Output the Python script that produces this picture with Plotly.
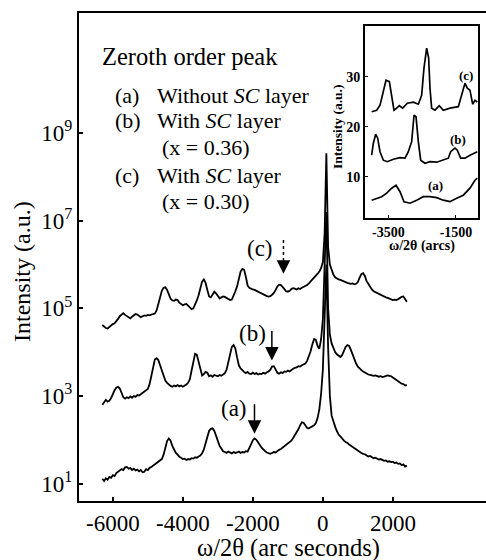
import plotly.graph_objects as go

# ---------------- data (main panel) ----------------
x_start = -6300   # first sample, arc seconds
x_step = 50       # sampling step, arc seconds

# log10(intensity), one value every 50 arcsec from -6300 to 2400
a_log = [1.11, 1.06, 1.12, 1.09, 1.15, 1.13, 1.19, 1.17, 1.24, 1.27,
         1.30, 1.33, 1.31, 1.37, 1.38, 1.34, 1.36, 1.31, 1.34, 1.30,
         1.32, 1.28, 1.31, 1.26, 1.27, 1.33, 1.31, 1.36, 1.38, 1.41,
         1.42, 1.46, 1.49, 1.52, 1.56, 1.66, 1.82, 1.97, 2.03, 1.98,
         1.86, 1.76, 1.70, 1.66, 1.61, 1.59, 1.56, 1.57, 1.54, 1.56,
         1.55, 1.58, 1.57, 1.60, 1.59, 1.62, 1.64, 1.69, 1.78, 1.92,
         2.08, 2.20, 2.25, 2.26, 2.20, 2.07, 1.95, 1.86, 1.80, 1.74,
         1.72, 1.70, 1.73, 1.71, 1.69, 1.72, 1.70, 1.71, 1.73, 1.70,
         1.72, 1.71, 1.74, 1.73, 1.80, 1.90, 1.99, 2.03, 2.00, 1.95,
         1.88, 1.82, 1.77, 1.74, 1.71, 1.70, 1.68, 1.70, 1.72, 1.71,
         1.75, 1.77, 1.79, 1.82, 1.84, 1.87, 1.90, 1.94, 1.98, 2.04,
         2.10, 2.17, 2.24, 2.33, 2.40, 2.39, 2.33, 2.27, 2.26, 2.28,
         2.31, 2.33, 2.38, 2.50, 2.70, 3.05, 3.60, 4.60, 6.00, 4.10,
         3.00, 2.55, 2.40, 2.30, 2.20, 2.12, 2.08, 2.02, 1.98, 1.95,
         1.93, 1.89, 1.86, 1.84, 1.81, 1.78, 1.75, 1.73, 1.70, 1.68,
         1.67, 1.64, 1.62, 1.63, 1.60, 1.58, 1.59, 1.57, 1.55, 1.56,
         1.53, 1.52, 1.53, 1.50, 1.51, 1.49, 1.50, 1.47, 1.48, 1.45,
         1.46, 1.42, 1.44, 1.39, 1.41]

b_log = [2.80, 2.86, 2.91, 2.87, 2.89, 2.95, 3.05, 3.13, 3.19, 3.21,
         3.17, 3.06, 2.97, 2.94, 2.97, 2.95, 2.99, 2.96, 3.00, 2.98,
         3.02, 3.01, 3.04, 3.07, 3.09, 3.12, 3.16, 3.27, 3.48, 3.70,
         3.83, 3.86, 3.82, 3.70, 3.57, 3.44, 3.35, 3.30, 3.26, 3.23,
         3.21, 3.24, 3.22, 3.25, 3.22, 3.24, 3.21, 3.23, 3.26, 3.30,
         3.38, 3.58, 3.82, 3.96, 3.94, 3.78, 3.56, 3.47, 3.50, 3.55,
         3.53, 3.45, 3.47, 3.44, 3.48, 3.46, 3.45, 3.48, 3.46, 3.49,
         3.52, 3.60, 3.78, 3.98, 4.12, 4.16, 4.08, 3.88, 3.70, 3.63,
         3.58, 3.55, 3.52, 3.55, 3.51, 3.50, 3.53, 3.50, 3.52, 3.49,
         3.51, 3.50, 3.53, 3.51, 3.54, 3.56, 3.60, 3.67, 3.68, 3.60,
         3.53, 3.51, 3.54, 3.52, 3.56, 3.55, 3.58, 3.56, 3.60, 3.62,
         3.64, 3.65, 3.68, 3.67, 3.70, 3.72, 3.74, 3.80, 3.90, 4.02,
         4.18, 4.30, 4.28, 4.14, 4.08, 4.30, 4.75, 5.80, 7.20, 5.00,
         4.40, 4.20, 4.08, 4.00, 3.95, 3.91, 3.89, 3.93, 4.02, 4.12,
         4.16, 4.14, 4.05, 3.93, 3.83, 3.74, 3.67, 3.62, 3.59, 3.56,
         3.53, 3.51, 3.49, 3.48, 3.47, 3.46, 3.47, 3.45, 3.44, 3.45,
         3.43, 3.44, 3.45, 3.47, 3.46, 3.45, 3.42, 3.39, 3.36, 3.33,
         3.30, 3.28, 3.27, 3.24, 3.25]

c_log = [4.62, 4.58, 4.55, 4.54, 4.58, 4.60, 4.64, 4.66, 4.70, 4.76,
         4.82, 4.86, 4.89, 4.85, 4.82, 4.78, 4.77, 4.81, 4.85, 4.87,
         4.86, 4.83, 4.80, 4.82, 4.84, 4.83, 4.85, 4.84, 4.86, 4.87,
         4.88, 4.95, 5.10, 5.27, 5.40, 5.47, 5.48, 5.42, 5.31, 5.22,
         5.18, 5.17, 5.20, 5.19, 5.13, 5.09, 5.07, 5.09, 5.10, 5.06,
         5.02, 4.98, 5.00, 5.08, 5.18, 5.30, 5.46, 5.61, 5.66, 5.58,
         5.42, 5.27, 5.25, 5.31, 5.38, 5.34, 5.27, 5.23, 5.25, 5.27,
         5.26, 5.24, 5.21, 5.19, 5.20, 5.28, 5.39, 5.50, 5.68, 5.84,
         5.90, 5.88, 5.72, 5.52, 5.47, 5.44, 5.43, 5.42, 5.40, 5.38,
         5.36, 5.34, 5.31, 5.29, 5.28, 5.27, 5.28, 5.31, 5.35, 5.42,
         5.50, 5.54, 5.53, 5.49, 5.43, 5.39, 5.38, 5.40, 5.44, 5.46,
         5.45, 5.43, 5.46, 5.44, 5.47, 5.49, 5.50, 5.53, 5.57, 5.61,
         5.65, 5.70, 5.74, 5.79, 5.84, 5.92, 6.05, 6.70, 8.54, 6.40,
         6.00, 5.88, 5.77, 5.71, 5.68, 5.66, 5.65, 5.63, 5.61, 5.60,
         5.58, 5.57, 5.56, 5.57, 5.55, 5.56, 5.60, 5.70, 5.78, 5.80,
         5.74, 5.62, 5.55, 5.48, 5.43, 5.39, 5.37, 5.34, 5.32, 5.30,
         5.28, 5.27, 5.25, 5.24, 5.22, 5.21, 5.19, 5.20, 5.19, 5.21,
         5.24, 5.26, 5.27, 5.22, 5.15]

x_ticks = [-6000, -4000, -2000, 0, 2000]
x_ticktext = ["-6000", "-4000", "-2000", "0", "2000"]
y_ticks = [1e1, 1e3, 1e5, 1e7, 1e9]
y_ticktext = ["10<sup>1</sup>", "10<sup>3</sup>", "10<sup>5</sup>", "10<sup>7</sup>", "10<sup>9</sup>"]

# arrows marking the weak satellite: x position and log10 of tip
arrow_labels = ["(a)", "(b)", "(c)"]
arrow_x = [-1953, -1457, -1126]
arrow_tip_log = [2.14, 3.81, 5.79]

# ---------------- data (inset) ----------------
ins_c_x = [-3993, -3845, -3746, -3648, -3569, -3470, -3401, -3333, -3254, -3175,
           -3076, -2938, -2761, -2613, -2515, -2446, -2367, -2308, -2268, -2219,
           -2121, -1993, -1874, -1678, -1431, -1332, -1234, -1165, -1086, -1007,
           -938, -869]
ins_c_y = [23.0, 23.3, 24.3, 27.3, 29.3, 29.0, 26.3, 23.3, 23.7, 24.2,
           23.7, 24.7, 24.9, 24.5, 26.3, 31.7, 35.7, 33.7, 27.7, 23.7,
           23.3, 24.2, 23.3, 23.7, 24.0, 26.3, 28.7, 27.7, 27.3, 24.5,
           25.3, 24.9]
ins_b_x = [-3993, -3943, -3874, -3815, -3746, -3648, -3530, -3352, -3155, -3007,
           -2909, -2810, -2741, -2682, -2613, -2544, -2416, -2268, -2071, -1874,
           -1727, -1658, -1530, -1461, -1362, -1234, -1086, -869]
ins_b_y = [14.3, 16.7, 18.5, 17.7, 15.0, 13.3, 13.0, 13.5, 13.8, 13.7,
           15.0, 17.0, 22.3, 22.0, 17.0, 13.3, 12.7, 13.0, 12.9, 13.3,
           13.7, 15.0, 15.7, 15.3, 13.7, 13.7, 14.3, 15.0]
ins_a_x = [-3993, -3845, -3697, -3549, -3401, -3273, -3155, -3037, -2859, -2662,
           -2465, -2268, -2071, -1874, -1678, -1481, -1284, -1086, -938, -869]
ins_a_y = [5.3, 5.7, 6.0, 6.7, 7.7, 8.3, 7.0, 5.0, 4.7, 5.3,
           6.0, 6.0, 5.8, 5.3, 5.0, 5.7, 6.3, 7.7, 9.3, 9.7]
ins_labels = ["(c)", "(b)", "(a)"]
ins_label_x = [-1214, -1431, -2091]
ins_label_y = [30.3, 17.5, 8.2]
ins_x_ticks = [-3500, -1500]
ins_y_ticks = [10, 20, 30]

# ---------------- figure ----------------
W, H = 486, 560
L, R, T, B = 79, 0, 13, 59
PW, PH = W - L - R, H - T - B
SERIF = "Liberation Serif, Times New Roman, serif"


def P(px, py):
    return (px - L) / PW, (H - B - py) / PH


def grid(n):
    return [x_start + x_step * i for i in range(n)]


fig = go.Figure()
for ylog in (a_log, b_log, c_log):
    fig.add_trace(go.Scatter(x=grid(len(ylog)), y=[10 ** v for v in ylog], mode="lines",
                             line=dict(color="black", width=1.8), showlegend=False,
                             xaxis="x", yaxis="y"))

for xs, ys in ((ins_c_x, ins_c_y), (ins_b_x, ins_b_y), (ins_a_x, ins_a_y)):
    fig.add_trace(go.Scatter(x=xs, y=ys, mode="lines",
                             line=dict(color="black", width=1.7), showlegend=False,
                             xaxis="x2", yaxis="y2"))

annotations = []
# arrows
for lab, ax_, tip in zip(arrow_labels, arrow_x, arrow_tip_log):
    dotted = (lab == "(c)")
    annotations.append(dict(x=ax_, y=tip, xref="x", yref="y", text="", showarrow=True,
                            arrowhead=2, arrowsize=1.8, arrowwidth=1.5, arrowcolor="black",
                            ax=0, ay=-11 if dotted else -31, standoff=0))

# dotted shaft of arrow (c): pixel rows 240..263
_, sy0 = P(0, 240)
_, sy1 = P(0, 263)
shapes = [dict(type="line", xref="x", yref="paper", x0=arrow_x[2], x1=arrow_x[2],
               y0=sy0, y1=sy1, line=dict(color="black", width=1.5, dash="dot"))]

label_px = {"(a)": (234, 408), "(b)": (252, 333), "(c)": (260, 248)}
for lab in arrow_labels:
    px, py = P(*label_px[lab])
    annotations.append(dict(x=px, y=py, xref="paper", yref="paper", text=lab, showarrow=False,
                            xanchor="center", yanchor="middle",
                            font=dict(family=SERIF, size=23, color="black")))

# legend-like text block
text_lines = [
    ("Zeroth order peak", 100, 57, 24.5),
    ("(a)", 113, 95, 22), ("Without <i>SC</i> layer", 155, 95, 22),
    ("(b)", 113, 120, 22), ("With <i>SC</i> layer", 155, 120, 22),
    ("(x = 0.36)", 160, 147, 22),
    ("(c)", 113, 175, 22), ("With <i>SC</i> layer", 155, 175, 22),
    ("(x = 0.30)", 160, 201, 22),
]
for txt, px, py, fs in text_lines:
    xp, yp = P(px, py)
    annotations.append(dict(x=xp, y=yp, xref="paper", yref="paper", text=txt, showarrow=False,
                            xanchor="left", yanchor="middle",
                            font=dict(family=SERIF, size=fs, color="black")))

# axis titles
xp, yp = P(22, 272)
annotations.append(dict(x=xp, y=yp, xref="paper", yref="paper", text="Intensity (a.u.)",
                        textangle=-90, showarrow=False, xanchor="center", yanchor="middle",
                        font=dict(family=SERIF, size=24, color="black")))
xp, yp = P(288, 548)
annotations.append(dict(x=xp, y=yp, xref="paper", yref="paper", text="ω/2θ (arc seconds)",
                        showarrow=False, xanchor="center", yanchor="middle",
                        font=dict(family=SERIF, size=24.5, color="black")))

# inset labels / titles
for lab, lx, ly in zip(ins_labels, ins_label_x, ins_label_y):
    annotations.append(dict(x=lx, y=ly, xref="x2", yref="y2", text="<b>" + lab + "</b>",
                            showarrow=False, font=dict(family=SERIF, size=13, color="black")))
xp, yp = P(338, 127)
annotations.append(dict(x=xp, y=yp, xref="paper", yref="paper", text="<b>Intensity (a.u.)</b>",
                        textangle=-90, showarrow=False, xanchor="center", yanchor="middle",
                        font=dict(family=SERIF, size=13.5, color="black")))
xp, yp = P(422, 246)
annotations.append(dict(x=xp, y=yp, xref="paper", yref="paper", text="<b>ω/2θ (arcs)</b>",
                        showarrow=False, xanchor="center", yanchor="middle",
                        font=dict(family=SERIF, size=14, color="black")))

ix0, iy_bot = P(365, 217.7)
ix1, iy_top = P(478.3, 25.7)

fig.update_layout(
    width=W, height=H,
    margin=dict(l=L, r=R, t=T, b=B, pad=0, autoexpand=False),
    paper_bgcolor="white", plot_bgcolor="white",
    showlegend=False,
    xaxis=dict(range=[-6966, 4660], domain=[0, 1], showline=True, linewidth=2.2, linecolor="black",
               mirror=True, ticks="inside", ticklen=4, tickwidth=1.5, tickcolor="black",
               tickvals=x_ticks, ticktext=x_ticktext, showgrid=False, zeroline=False,
               automargin=False, tickfont=dict(family=SERIF, size=23, color="black")),
    yaxis=dict(type="log", range=[0.603, 11.74], domain=[0, 1], showline=True, linewidth=2.2,
               linecolor="black", ticks="inside", ticklen=4, tickwidth=1.5, tickcolor="black",
               tickvals=y_ticks, ticktext=y_ticktext, showgrid=False, zeroline=False,
               automargin=False, tickfont=dict(family=SERIF, size=23, color="black")),
    xaxis2=dict(range=[-4190, -840], domain=[ix0, ix1], anchor="y2", showline=True, linewidth=2,
                linecolor="black", mirror=True, ticks="inside", ticklen=3, tickwidth=1.2,
                tickcolor="black", tickvals=ins_x_ticks, automargin=False,
                ticktext=["<b>%d</b>" % v for v in ins_x_ticks], showgrid=False, zeroline=False,
                tickfont=dict(family=SERIF, size=14, color="black")),
    yaxis2=dict(range=[1.8, 40.2], domain=[iy_bot, iy_top], anchor="x2", showline=True,
                linewidth=2, automargin=False,
                linecolor="black", mirror=True, ticks="inside", ticklen=3, tickwidth=1.2,
                tickcolor="black", tickvals=ins_y_ticks,
                ticktext=["<b>%d</b>" % v for v in ins_y_ticks], showgrid=False, zeroline=False,
                tickfont=dict(family=SERIF, size=14, color="black")),
    annotations=annotations,
    shapes=shapes,
)

fig.write_html("out.html", config={"displayModeBar": False},
               post_script="document.body.style.margin='0';")
